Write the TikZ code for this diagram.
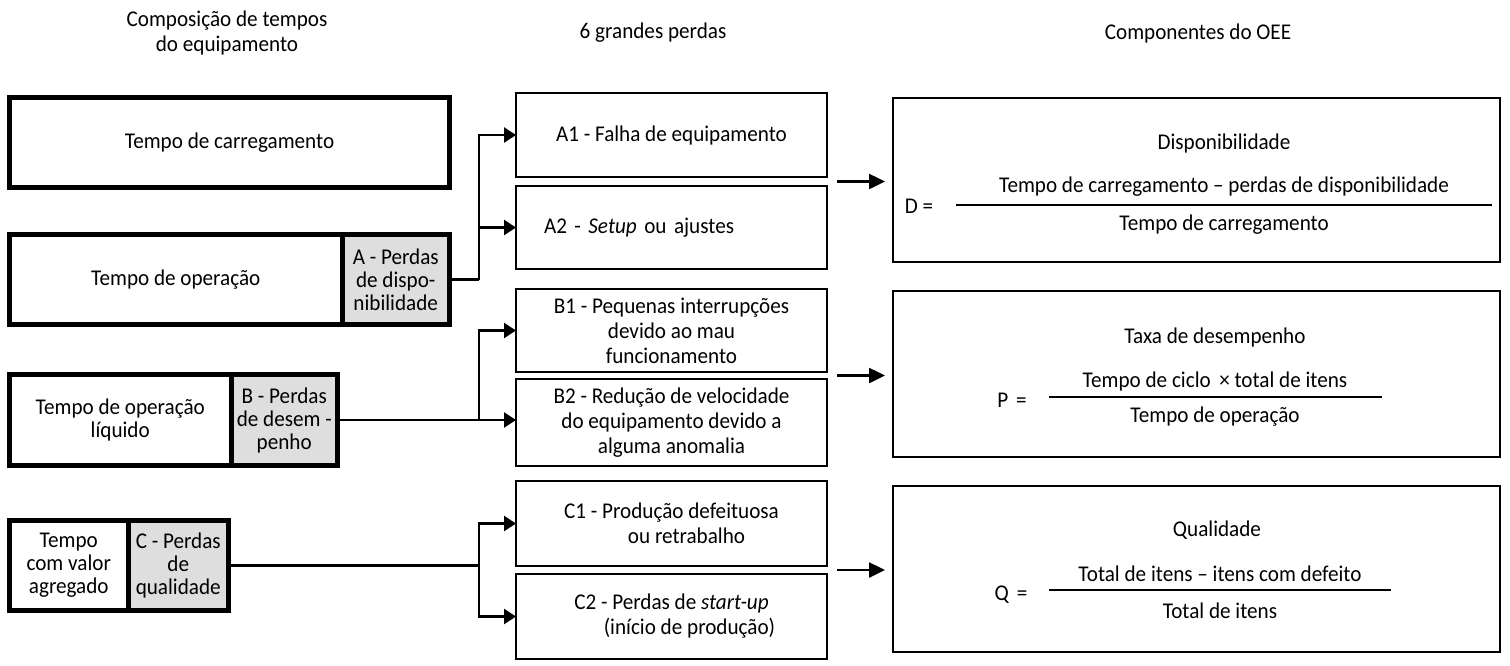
\documentclass[tikz,border=0pt]{standalone}
\usepackage{fontspec}
\setmainfont{Carlito}[FakeStretch=0.94]
\usetikzlibrary{arrows.meta}
\newcommand\fsl{\fontsize{22.5}{23}\selectfont}
\newcommand\fsm{\fontsize{22.5}{25}\selectfont}
\begin{document}
\begin{tikzpicture}[x=1pt,y=-1pt,
  lbox/.style={draw, line width=5pt, outer sep=0pt, inner sep=2pt, align=center, font=\fsl, anchor=north west},
  lgray/.style={lbox, fill=black!13},
  mbox/.style={draw, line width=2.5pt, outer sep=0pt, inner sep=3pt, align=center, font=\fsm, anchor=north west, minimum width=311pt},
  rbox/.style={draw, line width=2.5pt, outer sep=0pt, anchor=north west, minimum width=607pt, minimum height=164pt},
  txt/.style={font=\fsm, inner sep=0pt, align=center},
  conn/.style={line width=2.5pt},
  arr/.style={conn, -{Triangle[length=12pt,width=15pt]}},
  rarr/.style={conn, -{Triangle[length=16pt,width=15pt]}},
  frac/.style={line width=2.5pt}
]
\useasboundingbox[fill=white] (0,0) rectangle (1510,665);

% headers
\node[txt] (h1) at (227,33) {Composição de tempos\\do equipamento};
\node[txt] (h2) at (653,33) {6 grandes perdas};
\node[txt] (h3) at (1198,33) {Componentes do OEE};

% left column
\node[lbox, minimum width=440pt, minimum height=90pt] (tc) at (9.5,97.5) {Tempo de carregamento};
\node[lbox, minimum width=332.5pt, minimum height=90pt] (to) at (9.5,234.5) {Tempo de operação};
\node[lgray, minimum width=107.5pt, minimum height=90pt] (ag) at (342,234.5) {A - Perdas\\de dispo-\\nibilidade};
\node[lbox, minimum width=221.5pt, minimum height=91pt] (tl) at (9.5,374.5) {Tempo de operação\\líquido};
\node[lgray, minimum width=106.5pt, minimum height=91pt] (bg) at (231,374.5) {B - Perdas\\de desem -\\penho};
\node[lbox, minimum width=118.5pt, minimum height=90pt] (tv) at (9.5,520.5) {Tempo\\com valor\\agregado};
\node[lgray, minimum width=100.5pt, minimum height=90pt] (cg) at (128,520.5) {C - Perdas\\de\\qualidade};

% middle column
\node[mbox, minimum height=84pt] (a1) at (516,93) {A1 - Falha de equipamento};
\node[mbox, minimum height=83pt, text width=255pt, align=left] (a2) at (516,186) {A2 - \textit{Setup} ou ajustes};
\node[mbox, minimum height=83pt] (b1) at (516,289) {B1 - Pequenas interrupções\\devido ao mau\\funcionamento};
\node[mbox, minimum height=87pt] (b2) at (516,379) {B2 - Redução de velocidade\\do equipamento devido a\\alguma anomalia};
\node[mbox, minimum height=85pt] (c1) at (516,481) {C1 - Produção defeituosa\\\hspace*{30pt}ou retrabalho};
\node[mbox, minimum height=85pt] (c2) at (516,574) {C2 - Perdas de \textit{start-up}\\\hspace*{36pt}(início de produção)};

% right column
\node[rbox] (d) at (893,98) {};
\node[rbox, minimum height=166pt] (p) at (893,291) {};
\node[rbox, minimum height=166pt] (q) at (893,486) {};

% D formula
\node[txt] (dt) at (1224,143) {Disponibilidade};
\node[txt] (deq) at (919,206) {D =};
\node[txt] (dn) at (1224,187) {Tempo de carregamento – perdas de disponibilidade};
\node[txt] (dd) at (1224,225) {Tempo de carregamento};
\coordinate (dl1) at (956,205);
\coordinate (dl2) at (1492,205);
\draw[frac] (dl1) -- (dl2);

% P formula
\node[txt] (pt) at (1215,337) {Taxa de desempenho};
\node[txt] (peq) at (1012,400) {P\hspace{8pt}=};
\node[txt] (pn) at (1215,381) {Tempo de ciclo\, × total de itens};
\node[txt] (pd) at (1215,417) {Tempo de operação};
\coordinate (pl1) at (1049,397);
\coordinate (pl2) at (1382,397);
\draw[frac] (pl1) -- (pl2);

% Q formula
\node[txt] (qt) at (1217,530) {Qualidade};
\node[txt] (qeq) at (1011,595) {Q\hspace{8pt}=};
\node[txt] (qn) at (1220,574) {Total de itens – itens com defeito};
\node[txt] (qd) at (1220,611) {Total de itens};
\coordinate (ql1) at (1049,590);
\coordinate (ql2) at (1391,590);
\draw[frac] (ql1) -- (ql2);

% connectors left -> middle
\coordinate (ja) at (479,279.5);
\draw[conn] (ag.east) -- (ja);
\draw[arr] (ja) |- (a1.west);
\draw[arr] (ja |- a2.west) -- (a2.west);

\coordinate (jb) at (479,420);
\draw[arr] (bg.east) -- (bg.east -| b2.west);
\draw[arr] (jb) |- (b1.west);

\coordinate (jc) at (479,565.5);
\draw[conn] (cg.east) -- (jc);
\draw[arr] (jc) |- (c1.west);
\draw[arr] (jc) |- (c2.west);

% connectors middle -> right
\coordinate (ma) at (827,181.5);
\coordinate (mb) at (827,375.5);
\coordinate (mc) at (827,570);
\draw[rarr] ([xshift=10pt]ma) -- ([xshift=-8pt]ma -| d.west);
\draw[rarr] ([xshift=10pt]mb) -- ([xshift=-8pt]mb -| p.west);
\draw[rarr] ([xshift=10pt]mc) -- ([xshift=-8pt]mc -| q.west);
\end{tikzpicture}
\end{document}
